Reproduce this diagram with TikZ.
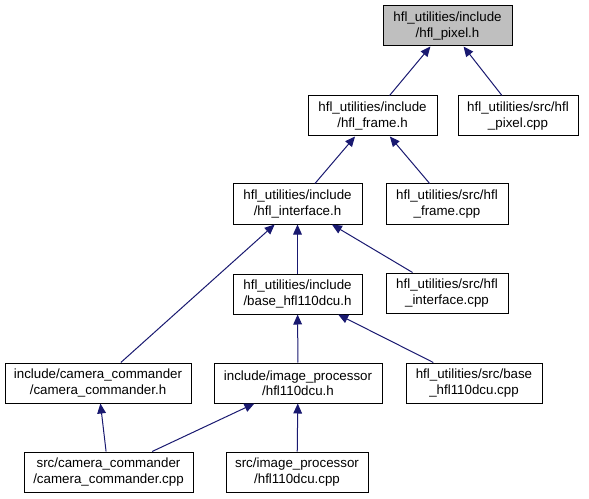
\documentclass[tikz,border=0pt]{standalone}
\usepackage{fontspec}
\setmainfont{Liberation Sans}
\usetikzlibrary{arrows.meta}

\definecolor{edgeblue}{HTML}{191970}
\definecolor{focusgrey}{HTML}{BFBFBF}

\tikzset{
  file/.style={draw=black, fill=white, line width=0.75pt, rectangle, align=center,
    inner sep=0pt, minimum height=30pt, font=\fontsize{10}{11.5}\selectfont},
  dep/.style={draw=edgeblue, line width=0.75pt, -{Triangle[length=7.5pt,width=6.5pt]}},
}

\begin{document}
\begin{tikzpicture}[x=0.75pt,y=-0.75pt]
\useasboundingbox (0,0) rectangle (589,499);

\node [file, fill=focusgrey, minimum width=96.75pt] (PixelH) at (447.5,26) {hfl\_utilities/include\\/hfl\_pixel.h};
\node [file, minimum width=96.75pt] (FrameH) at (372.5,116) {hfl\_utilities/include\\/hfl\_frame.h};
\node [file, minimum width=90pt] (PixelCpp) at (518,116) {hfl\_utilities/src/hfl\\\_pixel.cpp};
\node [file, minimum width=96.75pt] (InterfaceH) at (297.5,204) {hfl\_utilities/include\\/hfl\_interface.h};
\node [file, minimum width=91.5pt] (FrameCpp) at (447,204) {hfl\_utilities/src/hfl\\\_frame.cpp};
\node [file, minimum width=96.75pt] (BaseH) at (297.5,294) {hfl\_utilities/include\\/base\_hfl110dcu.h};
\node [file, minimum width=91.5pt] (InterfaceCpp) at (447,293) {hfl\_utilities/src/hfl\\\_interface.cpp};
\node [file, minimum width=139.5pt] (CamCmdH) at (98,383) {include/camera\_commander\\/camera\_commander.h};
\node [file, minimum width=126pt] (ImgProcH) at (298,383) {include/image\_processor\\/hfl110dcu.h};
\node [file, minimum width=102pt] (BaseCpp) at (474,383) {hfl\_utilities/src/base\\\_hfl110dcu.cpp};
\node [file, minimum width=126.75pt] (CamCmdCpp) at (108.5,472) {src/camera\_commander\\/camera\_commander.cpp};
\node [file, minimum width=106.5pt] (ImgProcCpp) at (297,472) {src/image\_processor\\/hfl110dcu.cpp};

\draw [dep] (FrameH) -- (PixelH);
\draw [dep] (PixelCpp) -- (PixelH);
\draw [dep] (InterfaceH) -- (FrameH);
\draw [dep] (FrameCpp) -- (FrameH);
\draw [dep] (CamCmdH) -- (InterfaceH);
\draw [dep] (BaseH) -- (InterfaceH);
\draw [dep] (InterfaceCpp) -- (InterfaceH);
\draw [dep] (ImgProcH) -- (BaseH);
\draw [dep] (BaseCpp) -- (BaseH);
\draw [dep] (CamCmdCpp) -- (CamCmdH);
\draw [dep] (CamCmdCpp) -- (ImgProcH);
\draw [dep] (ImgProcCpp) -- (ImgProcH);

\end{tikzpicture}
\end{document}
